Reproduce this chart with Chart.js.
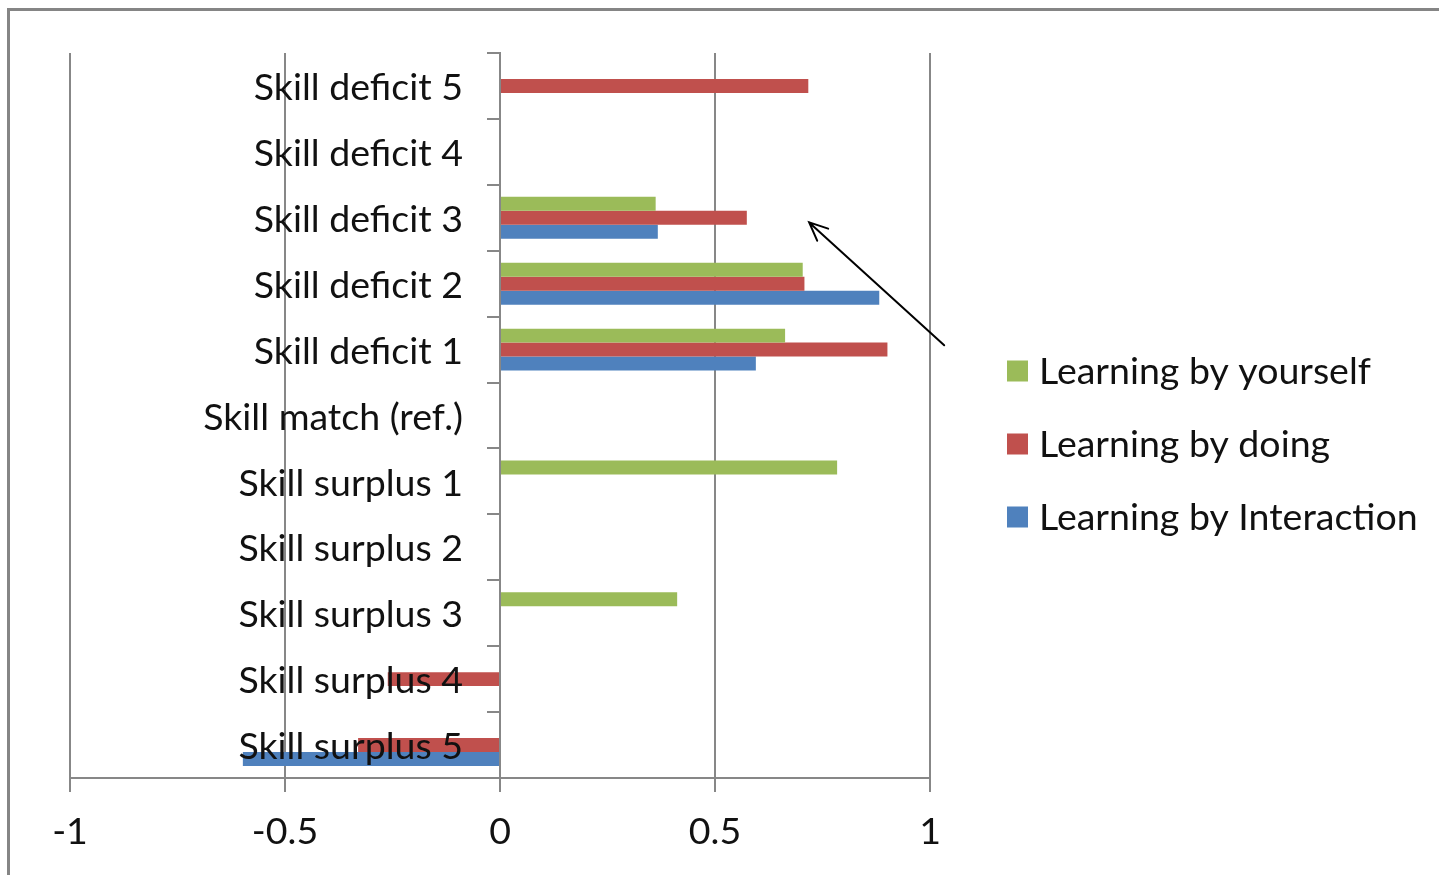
<!DOCTYPE html>
<html>
<head>
<meta charset="utf-8">
<script src="https://cdn.jsdelivr.net/npm/chart.js@4.4.1/dist/chart.umd.min.js"></script>
<style>
  html, body { margin: 0; padding: 0; background: #fff; }
  #wrap { position: relative; width: 1439px; height: 875px; overflow: hidden; background: #fff; }
  #frame { position: absolute; left: 7px; top: 8px; width: 1500px; height: 1000px;
           border-left: 3px solid #858585; border-top: 3px solid #858585; }
  #box { position: absolute; left: 0; top: 0; width: 1439px; height: 875px; }
</style>
</head>
<body>
<div id="wrap">
  <div id="frame"></div>
  <div id="box"><canvas id="c"></canvas></div>
</div>
<script>
// Categories, top to bottom
const categories = [
  'Skill deficit 5', 'Skill deficit 4', 'Skill deficit 3', 'Skill deficit 2', 'Skill deficit 1',
  'Skill match (ref.)',
  'Skill surplus 1', 'Skill surplus 2', 'Skill surplus 3', 'Skill surplus 4', 'Skill surplus 5'
];

// Coefficients per learning type (null = not shown)
const byYourself    = [null, null, 0.362, 0.704, 0.663, null, 0.784, null, 0.412, null, null];
const byDoing       = [0.717, null, 0.574, 0.708, 0.901, null, null, null, null, -0.261, -0.330];
const byInteraction = [null, null, 0.367, 0.882, 0.595, null, null, null, null, null, -0.598];

const seriesNames  = ['Learning by yourself', 'Learning by doing', 'Learning by Interaction'];
const seriesColors = ['#9BBB59', '#C0504D', '#4F81BD'];

const xTicks = [-1, -0.5, 0, 0.5, 1];

// Arrow annotation, in data units (x value, category index)
const arrowFrom = { x: 1.033, y: 3.935 };
const arrowTo   = { x: 0.719, y: 2.07 };

const FONT = 'Lato, "Open Sans", sans-serif';
const GRID = '#878787';

// Category names sit just left of the zero line, on top of the bars
const categoryLabelPlugin = {
  id: 'categoryLabels',
  afterDatasetsDraw(chart) {
    const xs = chart.scales.x, ys = chart.scales.y;
    const ctx = chart.ctx;
    const right = xs.getPixelForValue(0) - 37;
    ctx.save();
    ctx.font = '37.5px ' + FONT;
    ctx.fillStyle = '#111';
    ctx.textAlign = 'right';
    ctx.textBaseline = 'middle';
    chart.data.labels.forEach((lab, i) => {
      ctx.fillText(lab, right, ys.getPixelForValue(i) + 2);
    });
    ctx.restore();
  }
};

const legendPlugin = {
  id: 'sideLegend',
  afterDraw(chart) {
    const ctx = chart.ctx;
    const area = chart.chartArea;
    const x0 = area.right + 77;
    const y0 = area.top + 318;
    ctx.save();
    ctx.font = '37.5px ' + FONT;
    ctx.textBaseline = 'middle';
    ctx.textAlign = 'left';
    chart.data.datasets.forEach((ds, i) => {
      const cy = y0 + i * 73;
      ctx.fillStyle = ds.backgroundColor;
      ctx.fillRect(x0, cy - 10.5, 21, 21);
      ctx.fillStyle = '#111';
      ctx.fillText(ds.label, x0 + 32, cy + 1);
    });
    ctx.restore();
  }
};

const arrowPlugin = {
  id: 'arrow',
  afterDraw(chart) {
    const xs = chart.scales.x, ys = chart.scales.y;
    const x1 = xs.getPixelForValue(arrowFrom.x), y1 = ys.getPixelForValue(arrowFrom.y);
    const x2 = xs.getPixelForValue(arrowTo.x),   y2 = ys.getPixelForValue(arrowTo.y);
    const ang = Math.atan2(y1 - y2, x1 - x2);
    const head = 20, spread = 0.42;
    const ctx = chart.ctx;
    ctx.save();
    ctx.strokeStyle = '#000';
    ctx.lineWidth = 2;
    ctx.lineCap = 'round';
    ctx.beginPath();
    ctx.moveTo(x1, y1);
    ctx.lineTo(x2, y2);
    ctx.moveTo(x2 + head * Math.cos(ang - spread), y2 + head * Math.sin(ang - spread));
    ctx.lineTo(x2, y2);
    ctx.lineTo(x2 + head * Math.cos(ang + spread), y2 + head * Math.sin(ang + spread));
    ctx.stroke();
    ctx.restore();
  }
};

const seriesData = [byYourself, byDoing, byInteraction];

new Chart(document.getElementById('c'), {
  type: 'bar',
  data: {
    labels: categories,
    datasets: seriesData.map((d, i) => ({
      label: seriesNames[i],
      data: d,
      backgroundColor: seriesColors[i],
      borderWidth: 0,
      categoryPercentage: 0.636,
      barPercentage: 1.0
    }))
  },
  options: {
    indexAxis: 'y',
    responsive: true,
    maintainAspectRatio: false,
    animation: false,
    events: [],
    layout: { padding: { left: 70, right: 509, top: 53, bottom: 0 } },
    plugins: { legend: { display: false }, tooltip: { enabled: false } },
    scales: {
      x: {
        type: 'linear',
        min: -1,
        max: 1,
        afterBuildTicks: s => { s.ticks = xTicks.map(v => ({ value: v })); },
        afterFit: s => { s.height = 97; },
        grid: { color: GRID, lineWidth: 2, tickLength: 14, drawOnChartArea: true },
        border: { display: true, color: GRID, width: 2 },
        ticks: {
          color: '#111',
          font: { family: FONT, size: 37.5 },
          padding: 17,
          maxRotation: 0,
          callback: v => String(v)
        }
      },
      y: {
        position: { x: 0 },
        grid: { offset: true, drawOnChartArea: false, color: GRID, lineWidth: 2, tickLength: 12 },
        border: { display: true, color: GRID, width: 2 },
        ticks: { display: false, autoSkip: false }
      }
    }
  },
  plugins: [categoryLabelPlugin, legendPlugin, arrowPlugin]
});
</script>
</body>
</html>
